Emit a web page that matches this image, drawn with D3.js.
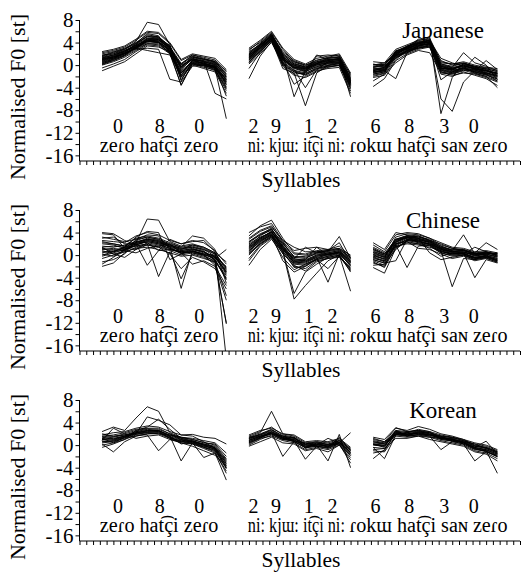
<!DOCTYPE html>
<html>
<head>
<meta charset="utf-8">
<script src="https://cdn.jsdelivr.net/npm/d3@7"></script>
<style>
  body { margin: 0; background: #fff; }
</style>
</head>
<body>
<div id="chart"></div>
<script>
// syllable positions of the three digit strings
var seg1X = [0, 1, 2, 3, 4, 5, 6, 7, 8, 9, 10, 11];
var seg2X = [13, 14, 15, 16, 17, 18, 19, 20, 21, 22];
var seg3X = [24, 25, 26, 27, 28, 29, 30, 31, 32, 33, 34, 35];

var languages = ["Japanese", "Chinese", "Korean"];
var yTicks = [8, 4, 0, -4, -8, -12, -16];

var digitLabels = ["0", "8", "0", "2", "9", "1", "2", "6", "8", "3", "0"];
var digitPos = [1.4, 5.1, 8.6, 13.4, 15.4, 18.3, 20.4, 24.2, 27.2, 30.3, 32.9];
var syllableLabels = ["zeɾo hat͡çi zeɾo", "ni: kjɯ: it͡çi ni:", "ɾokɯ hat͡çi saɴ zeɾo"];
var syllablePos = [-0.2, 12.9, 21.9];
var syllableEnd = [10.3, 21.5, 35.9];

// Japanese speakers
var japaneseSeg1 = [
  [1.2, 1.8, 2.6, 3.6, 4.8, 4.6, 3.0, -0.2, 1.2, 0.6, 0.2, -2.2],
  [0.5, 1.0, 1.8, 3.0, 4.2, 4.0, 2.4, -1.0, 0.6, 0.2, -0.3, -3.0],
  [2.0, 2.4, 3.0, 4.0, 5.4, 5.0, 3.3, 0.3, 1.6, 1.0, 0.5, -1.5],
  [-0.5, 0.2, 1.0, 2.4, 3.6, 3.4, 2.0, -3.5, 0.2, -0.4, -0.8, -4.0],
  [1.5, 2.0, 2.8, 4.2, 7.6, 7.2, 3.6, -2.8, 0.8, 0.4, -0.4, -5.5],
  [0.8, 1.4, 2.0, 3.2, 4.4, 4.2, 2.6, -0.6, 1.0, 0.8, -5.0, -6.0],
  [1.0, 1.6, 2.4, 3.4, 4.6, 4.4, 2.8, -1.2, 0.4, 0.0, -0.6, -9.5],
  [2.2, 2.6, 3.2, 4.4, 5.8, 5.6, 3.8, 0.8, 1.8, 1.4, 0.9, -1.2],
  [0.0, 0.6, 1.4, 2.6, 3.8, 3.8, 2.2, -1.8, 0.2, -0.2, -1.0, -4.5],
  [1.6, 2.2, 2.8, 3.8, 5.0, 4.8, 3.2, -0.3, 1.4, 0.8, 0.4, -2.0],
  [0.3, 0.8, 1.6, 2.8, 3.0, 2.8, -2.5, -3.0, -0.2, 0.0, -0.4, -3.5],
  [1.4, 1.8, 2.4, 3.6, 5.2, 5.0, 3.4, -0.8, 1.2, 0.6, 0.0, -2.8],
  [-1.0, -0.2, 0.6, 2.0, 3.4, 3.2, 2.4, 0.2, 1.8, 1.2, 0.6, -1.6],
  [1.0, 1.2, 2.0, 3.0, 4.0, 4.6, 3.0, 0.0, 1.0, 0.2, -0.2, -3.2],
  [0.6, 1.2, 2.2, 3.8, 5.6, 5.2, 2.2, -1.4, 0.6, 0.4, -0.2, -2.4],
  [1.8, 2.0, 2.6, 3.2, 4.2, 4.0, 2.8, -0.4, 1.4, 1.0, 0.6, -1.0],
  [0.2, 1.0, 1.8, 3.2, 4.4, 4.4, 3.2, -2.2, 0.0, -0.6, -1.2, -5.0],
  [1.2, 1.4, 2.2, 3.0, 2.6, 2.2, 1.8, -1.4, 0.8, 0.2, -0.4, -2.6],
  [0.9, 1.5, 2.3, 3.4, 4.6, 4.5, 2.9, -0.4, 1.1, 0.5, 0.1, -2.6],
  [1.3, 1.7, 2.5, 3.5, 4.4, 4.2, 2.6, -1.7, 0.9, 0.3, -0.1, -3.4],
  [0.4, 1.1, 2.0, 3.1, 4.3, 4.1, 2.5, -2.6, 0.5, 0.1, -0.5, -3.8],
  [1.7, 2.3, 2.9, 3.9, 5.1, 4.9, 3.1, 0.1, 1.5, 1.1, 0.7, -1.8],
  [0.7, 1.3, 2.1, 3.3, 4.7, 4.7, 3.5, -1.9, 0.9, 0.7, 0.3, -2.1],
  [1.1, 1.5, 2.1, 2.9, 3.8, 3.6, 2.3, -3.6, 0.3, -0.1, -0.6, -3.0],
  [2.4, 2.8, 3.4, 4.6, 6.0, 5.8, 4.0, 1.0, 2.0, 1.6, 1.2, -0.8],
  [0.1, 0.8, 1.7, 3.1, 4.2, 4.0, 2.0, -2.1, 0.3, 0.0, -0.8, -4.2]
];
var japaneseSeg2 = [
  [1.8, 3.6, 5.2, 1.6, 0.0, -0.6, 0.3, 0.8, 1.0, -2.6],
  [1.0, 2.8, 4.6, 0.8, -0.6, -1.2, -0.2, 0.2, 0.4, -3.6],
  [2.6, 4.2, 5.8, 2.8, 0.6, -0.2, 0.8, 1.4, 1.8, -1.8],
  [-2.4, 1.6, 4.2, 0.0, -1.2, -1.8, -0.6, -0.2, 0.0, -4.6],
  [2.0, 3.8, 5.6, 1.8, -5.6, -1.0, 1.8, 1.0, 1.2, -5.6],
  [0.6, 2.4, 4.4, -0.6, -1.4, -7.2, -1.4, 0.0, 0.4, -3.2],
  [1.4, 3.0, 5.0, 1.2, -0.2, -0.8, 0.2, 0.6, 0.8, -2.8],
  [2.2, 3.8, 5.4, 2.2, 0.4, -0.4, 0.6, 1.2, 1.4, -2.2],
  [0.2, 2.0, 4.0, 0.4, -1.0, -1.6, -0.4, 0.0, 0.2, -4.0],
  [1.6, 3.4, 5.0, 1.0, -0.4, -1.0, 0.0, 0.4, 0.6, -3.0],
  [3.0, 4.4, 6.0, 3.0, 1.0, 0.2, 1.2, 1.6, 2.0, -1.4],
  [1.2, 3.2, 4.8, 1.4, -0.8, -4.0, -0.8, 0.6, 0.8, -3.4],
  [0.8, 2.6, 4.6, 0.2, -1.6, -1.4, 1.6, 1.8, 1.6, -2.4],
  [2.4, 3.6, 5.2, 1.8, 0.2, -0.4, 0.4, 0.8, 1.2, -2.0],
  [-0.6, 2.2, 4.4, 0.6, -3.4, -2.0, -1.0, -0.6, -0.4, -5.0],
  [1.4, 3.2, 5.4, 2.4, 0.8, 0.0, 0.6, 1.0, 1.0, -2.8],
  [0.4, 2.6, 4.6, -0.2, -1.8, -2.2, -1.2, -0.4, 0.0, -3.8],
  [1.8, 3.0, 4.8, 1.2, -0.4, -0.6, 0.2, 1.2, 1.4, -3.2],
  [1.5, 3.4, 5.1, 1.4, -0.1, -0.7, 0.1, 0.5, 0.8, -3.0],
  [1.1, 3.0, 4.8, 0.9, -0.5, -1.1, -0.3, 0.3, 0.5, -3.4],
  [2.0, 3.6, 5.3, 1.9, 0.2, -0.3, 0.5, 0.9, 1.1, -2.4],
  [0.9, 2.8, 4.7, 0.6, -0.9, -1.4, -0.6, -0.1, 0.3, -4.2],
  [1.7, 3.5, 5.2, 1.5, 0.0, -0.5, 0.3, 0.7, 1.0, -2.7],
  [2.8, 4.0, 5.6, 2.0, 0.6, 0.0, 0.9, 1.3, 1.5, -1.6],
  [1.3, 3.1, 4.9, 1.1, -0.3, -0.9, 0.0, 0.4, 0.6, -3.1],
  [0.5, 2.4, 4.3, 0.3, -1.2, -1.7, -0.8, -0.3, -0.1, -3.6]
];
var japaneseSeg3 = [
  [-0.8, -0.4, 2.0, 3.0, 3.8, 4.2, -0.2, -0.6, 0.0, -0.6, -1.0, -1.4],
  [-1.6, -1.2, 1.4, 2.4, 3.2, 3.6, -0.8, -1.2, -0.6, -1.2, -1.6, -2.2],
  [0.6, 0.4, 2.8, 3.6, 4.4, 4.8, 0.6, 0.2, 0.6, 0.0, -0.4, -0.6],
  [-3.8, -2.4, 0.8, 2.0, 2.8, 3.2, -1.6, -2.0, -1.2, -1.8, -2.4, -3.6],
  [-0.4, 0.0, 2.4, 3.2, 4.6, 5.0, -8.6, -2.2, 0.4, -0.4, -1.0, -1.8],
  [-1.2, -1.0, -2.4, 2.2, 3.4, 4.2, -6.0, -8.2, -3.0, -1.0, -1.4, -2.0],
  [-0.2, 0.2, 2.2, 3.0, 3.6, 3.8, 0.0, -0.4, 2.2, 0.4, -0.2, -1.0],
  [-2.2, -1.8, 1.0, 2.6, 3.4, 3.8, -1.0, -1.4, -0.8, 1.4, 0.0, -2.6],
  [-1.0, -0.6, 2.0, 2.8, 3.8, 4.4, 1.2, 0.4, -0.2, -0.6, -1.2, -1.4],
  [0.2, -0.2, 1.6, 2.4, 3.0, 3.4, -0.4, -1.0, -0.4, -1.4, -2.0, -4.0],
  [-1.4, -1.0, 2.4, 3.4, 4.2, 4.4, -0.6, -0.8, 0.2, -0.4, -0.6, -1.2],
  [-2.8, -1.6, 0.4, 1.8, 2.6, 2.2, -1.4, -1.6, -1.0, -0.8, -1.6, -2.8],
  [-0.6, -0.8, 1.8, 3.2, 4.0, 4.0, -2.6, -1.2, -0.4, -1.0, 0.8, -0.8],
  [-1.8, -1.4, 2.6, 2.8, 3.6, 3.8, 0.4, 0.2, 0.4, -0.2, -0.8, -1.6],
  [-0.4, -0.2, 1.2, 2.6, 3.0, 3.6, -0.2, -0.8, -0.6, -1.2, -1.8, -2.4],
  [-1.2, -0.8, 2.2, 3.0, 4.4, 4.6, 0.2, -0.4, 0.0, -0.8, -1.0, -1.6],
  [0.0, 0.4, 1.8, 2.2, 3.2, 3.2, -1.2, -1.8, -1.4, -1.6, -2.2, -3.0],
  [-1.0, -0.4, 1.6, 3.4, 3.8, 4.0, -0.6, -0.6, -0.2, -0.6, -1.4, -1.8],
  [-0.9, -0.6, 2.0, 2.9, 3.7, 4.1, -0.3, -0.7, -0.1, -0.7, -1.0, -1.5],
  [-1.3, -1.0, 1.7, 2.6, 3.4, 3.8, -0.7, -1.1, -0.5, -1.1, -1.5, -2.0],
  [-0.3, -0.1, 2.3, 3.2, 4.0, 4.5, 0.2, -0.2, 0.3, -0.3, -0.7, -1.1],
  [-2.0, -1.5, 1.3, 2.2, 3.0, 3.4, -1.2, -1.5, -0.9, -1.5, -2.0, -2.8],
  [-0.7, -0.4, 2.1, 3.0, 3.9, 4.3, -0.5, -0.9, 0.1, -0.5, -0.9, -1.4],
  [-1.6, -1.2, 1.8, 2.7, 3.5, 3.7, -0.1, -0.5, -0.3, -0.9, -1.3, -1.9],
  [0.1, 0.1, 2.5, 3.3, 4.1, 4.3, 0.8, 0.0, 0.3, -0.2, -0.5, -0.9],
  [-1.1, -0.9, 1.5, 2.5, 3.3, 3.9, -0.9, -1.3, -0.7, -1.3, -1.7, -2.5]
];

// Chinese speakers
var chineseSeg1 = [
  [3.8, 3.6, 1.2, 2.6, 3.2, 2.8, 1.8, 1.2, 1.6, 1.0, -0.2, -3.0],
  [-2.0, -1.4, 0.4, 1.4, 1.8, 1.4, 0.8, 0.0, 0.4, -0.2, -1.0, -4.2],
  [1.2, 0.6, 1.4, 2.2, 6.4, 6.2, 2.4, 1.6, 2.0, 1.4, 0.4, -2.4],
  [0.4, 0.8, 1.0, 1.6, 2.0, -3.8, 0.6, -4.2, 0.2, -0.4, -1.4, -12.0],
  [2.4, 2.0, 1.6, 3.0, 3.4, 3.0, 2.2, 1.4, 3.4, 3.0, 1.0, -5.0],
  [-0.6, 0.0, 0.8, 1.8, 2.6, 2.2, 1.6, -5.9, 0.8, 0.0, -1.8, -8.0],
  [1.6, 1.4, 1.8, 2.4, 2.8, 2.4, 1.4, 0.8, 1.2, 0.6, -0.4, -2.0],
  [3.0, 3.2, 2.0, 2.0, -1.8, 0.8, 2.8, 2.0, 2.4, 2.6, 0.6, -18.5],
  [0.8, 0.2, 0.6, 1.2, 1.4, 1.0, 0.4, -0.2, 0.0, -0.6, -1.2, -3.6],
  [-1.2, -0.8, 0.2, 2.8, 3.6, 3.4, 1.0, 0.4, -1.6, -1.0, -2.0, -5.4],
  [2.0, 1.8, 1.2, 1.0, 2.2, 1.8, 1.2, 0.6, 0.8, 0.2, 0.0, -3.2],
  [0.0, 0.6, 1.4, 3.2, 4.2, 4.0, -0.8, 0.2, 1.0, 0.6, -0.8, -4.0],
  [4.0, 3.8, 2.6, 1.8, 2.4, 2.0, 1.6, 1.0, 1.4, 0.8, -1.0, -12.2],
  [1.0, 1.2, 0.8, 0.4, 1.2, 1.6, 2.0, 0.4, 0.6, 0.2, -0.6, 1.0],
  [-1.6, -0.4, 1.0, 2.0, 2.8, 2.6, 1.8, 1.0, 1.8, 1.2, 0.2, -2.6],
  [1.4, 0.2, -0.4, 1.0, 1.8, 1.4, 0.2, -2.4, -0.4, -1.2, -2.4, -6.0],
  [2.6, 2.4, 2.2, 3.4, 4.0, 3.6, 2.6, 2.0, 2.6, 2.2, 0.8, -1.6],
  [0.2, -0.2, 0.6, 2.4, 2.2, 0.8, 1.0, 0.6, 0.4, 0.0, -0.4, -3.0],
  [1.1, 1.0, 1.2, 2.0, 2.6, 2.2, 1.6, 0.8, 1.1, 0.6, -0.4, -3.4],
  [0.6, 0.6, 0.9, 1.8, 2.4, 2.0, 1.2, 0.4, 0.7, 0.2, -0.8, -4.4],
  [2.2, 2.0, 1.6, 2.2, 2.8, 2.4, 1.8, 1.2, 1.4, 1.0, 0.2, -2.2],
  [-0.2, 0.4, 1.0, 2.2, 3.0, 2.6, 1.4, 0.2, 0.6, 0.0, -1.2, -7.2],
  [1.4, 1.6, 1.4, 1.6, 2.0, 1.6, 1.0, 0.6, 1.0, 0.4, -0.2, -2.8],
  [3.2, 2.8, 2.4, 2.8, 3.2, 2.8, 2.0, 1.4, 1.8, 1.4, 0.4, -1.2]
];
var chineseSeg2 = [
  [1.6, 3.4, 4.6, 1.8, -0.8, -0.8, 0.0, 0.4, 0.8, -1.0],
  [-1.8, 1.0, 2.8, 0.4, -2.0, -2.4, -1.0, -0.6, -0.2, -2.4],
  [3.4, 5.2, 6.2, 3.0, 0.4, 0.2, 0.8, 1.0, 1.6, -0.2],
  [0.6, 2.4, 3.6, 0.6, -7.8, -5.4, -3.2, -1.0, 0.0, -6.4],
  [2.4, 3.6, 4.4, 2.2, -0.4, -0.6, 0.4, 0.6, 3.3, -0.6],
  [1.0, 2.8, 3.8, 1.2, -1.4, -1.2, -0.4, -4.8, 0.2, -1.8],
  [0.2, 2.2, 3.4, 0.2, -1.6, -1.8, -0.8, -0.2, 0.4, -2.0],
  [4.0, 5.0, 5.6, 2.6, 0.8, 1.2, 1.4, 1.0, 1.2, 0.0],
  [1.2, 3.0, 4.2, 1.6, -1.0, -1.2, -0.2, 0.2, 0.6, -1.2],
  [-0.6, 1.8, 3.2, 0.8, -6.8, -3.0, -1.6, -0.4, 0.0, -3.0],
  [2.0, 3.2, 4.0, 2.0, -0.2, -0.4, 0.2, 0.4, 0.8, -0.8],
  [0.8, 2.6, 3.6, -1.0, -3.0, -2.0, -0.6, 0.2, 0.4, -1.6],
  [2.8, 4.2, 5.0, 2.6, 1.4, 0.6, 0.6, 0.8, 1.0, -0.4],
  [1.4, 2.8, 4.0, 1.4, -1.2, -0.8, 1.4, 0.0, 0.6, -1.4],
  [-1.0, 1.6, 3.0, -0.4, -2.6, -1.6, -0.8, -2.4, -0.2, -2.8],
  [2.2, 3.6, 4.8, 1.0, -0.6, 1.4, 0.4, 0.8, 2.2, -1.2],
  [0.4, 2.0, 3.4, 1.2, -1.8, -2.8, -1.2, -0.6, -0.4, -2.2],
  [1.8, 3.0, 4.2, 1.6, -0.6, -1.0, 0.0, 0.2, 0.6, -1.0],
  [1.5, 3.0, 4.1, 1.4, -1.0, -1.0, -0.2, 0.1, 0.5, -1.3],
  [0.8, 2.4, 3.6, 1.0, -1.4, -1.6, -0.6, -0.2, 0.2, -1.8],
  [2.4, 3.8, 4.6, 2.2, -0.4, -0.2, 0.4, 0.6, 1.0, -0.6],
  [1.2, 2.6, 3.8, 0.8, -2.2, -2.0, -0.8, -0.4, 0.0, -2.6],
  [3.0, 4.4, 5.2, 2.4, 0.2, 0.0, 0.6, 0.8, 1.2, -0.4],
  [0.0, 2.0, 3.2, 0.6, -1.2, -1.4, -0.4, 0.0, 0.4, -1.6]
];
var chineseSeg3 = [
  [0.4, -0.4, 2.4, 3.2, 3.0, 2.4, 1.2, 0.6, 0.6, 0.0, 0.2, -0.2],
  [-2.2, -3.2, 1.2, 2.6, 2.2, 1.6, 0.4, 0.0, 0.0, -0.8, -0.4, -1.0],
  [1.8, 0.6, 3.6, 4.0, 3.8, 3.0, 2.2, 1.4, 1.2, 0.6, 0.8, 0.4],
  [-0.8, -1.4, -1.0, 2.8, 2.6, 2.0, 0.8, -5.6, -0.6, -0.8, 0.0, -1.2],
  [1.2, 0.2, 2.8, 3.4, 3.2, 2.8, 1.6, 0.8, 3.6, 0.2, 0.4, 0.0],
  [-1.4, -2.0, 1.8, -2.2, 1.6, 1.8, 0.6, 0.2, 0.4, -4.0, -0.8, -1.4],
  [0.0, -0.8, 2.0, 3.0, 2.8, 2.2, 1.0, 0.4, 0.2, -0.4, 0.0, -0.6],
  [2.2, 1.0, 4.0, 3.6, 3.4, 2.6, 2.0, 1.2, 0.8, 0.4, 2.2, 1.0],
  [-0.4, -1.2, 1.6, 2.8, 2.4, 2.0, 1.2, 0.6, 0.6, -0.2, 0.2, -0.4],
  [0.8, -0.2, 2.6, 3.4, 3.0, 0.4, -0.8, -0.4, 0.0, -0.6, -0.2, -0.8],
  [-1.0, -1.8, 2.2, 3.2, 2.6, 2.4, 1.4, 1.0, 1.0, 0.2, 0.6, 0.2],
  [0.6, 0.0, 2.0, 2.4, 1.2, 1.0, 0.2, -0.6, -0.2, -1.0, -0.6, -1.2],
  [-0.2, -0.6, 3.2, 3.8, 3.6, 3.0, 1.8, 1.2, 1.0, 0.4, 0.6, 0.0],
  [1.4, 0.4, 1.4, 2.2, 2.0, 1.2, -0.2, 0.4, 0.4, 0.2, 0.2, 0.4],
  [-1.8, -1.6, 1.0, 2.6, 2.8, 2.2, 1.0, 0.2, 0.4, -0.4, -0.2, -0.8],
  [0.2, -0.4, 2.8, 3.0, 3.4, 2.6, 1.4, 0.8, 0.2, 1.4, 0.6, -0.2],
  [-0.6, -1.0, 1.6, 2.0, 1.8, 1.4, 0.8, 0.0, 0.2, -0.6, -0.4, -1.0],
  [1.0, 0.0, 2.4, 3.2, 2.2, 2.0, 1.0, 0.6, 0.8, 0.0, 0.4, 0.0],
  [0.1, -0.7, 2.3, 3.1, 2.9, 2.3, 1.1, 0.5, 0.5, -0.1, 0.1, -0.3],
  [-0.8, -1.4, 1.8, 2.8, 2.5, 1.9, 0.8, 0.2, 0.3, -0.5, -0.3, -0.9],
  [1.0, 0.2, 2.8, 3.5, 3.2, 2.6, 1.6, 0.9, 0.8, 0.3, 0.5, 0.2],
  [-1.2, -2.2, 1.4, 2.4, 2.0, 1.7, 0.4, -0.2, 0.0, -0.8, -0.5, -1.3],
  [0.5, -0.3, 2.6, 3.3, 3.0, 2.5, 1.3, 0.7, 0.9, 0.1, 0.3, 0.3],
  [-0.3, -1.0, 2.0, 2.6, 2.4, 1.8, 0.6, 0.3, 0.2, -0.4, -0.1, -0.6]
];

// Korean speakers
var koreanSeg1 = [
  [1.2, 1.4, 1.8, 2.4, 2.8, 2.6, 1.8, 1.2, 0.8, 0.2, -0.4, -3.0],
  [0.2, -1.2, 0.6, 1.6, 2.0, 2.0, 1.2, 0.4, 0.2, -0.4, -1.0, -4.2],
  [2.4, 3.2, 2.6, 4.8, 6.8, 6.0, 2.2, 1.4, 1.0, 0.4, 0.2, -2.0],
  [0.6, 0.8, 1.4, 2.0, 5.0, 4.4, 3.6, 1.8, 1.6, 0.6, -0.6, -4.0],
  [1.6, 1.8, 2.2, 2.8, 3.0, 3.0, 2.0, 1.0, 0.4, -2.2, -1.4, -6.2],
  [-0.4, 0.2, 1.0, 1.8, 1.8, -1.0, 1.0, 0.6, 0.8, 0.0, -0.8, -3.6],
  [1.0, 1.2, 1.6, 2.2, 2.6, 2.6, 1.6, -2.8, 0.4, -0.2, -0.6, -3.2],
  [1.8, 2.2, 2.4, 3.0, 3.4, 3.2, 2.4, 1.8, 1.9, 1.4, 1.2, 0.2],
  [0.4, 0.6, 1.2, 1.6, 2.0, 2.2, 1.4, 0.6, 0.2, -0.6, -1.4, -4.6],
  [1.4, 1.0, 1.6, 2.4, 2.6, 2.4, 1.2, 0.8, 0.6, 0.0, -0.4, -2.8],
  [0.8, 3.0, 2.0, 1.2, 1.6, 1.8, 1.0, 0.4, -0.2, -1.0, -1.8, -3.8],
  [1.2, 0.4, 1.0, 2.6, 3.2, 4.6, 2.8, 1.2, 0.6, 0.2, -0.2, -2.6],
  [2.0, 1.6, 1.8, 2.0, 2.2, 2.0, 1.8, 1.4, 1.2, 0.8, 0.4, -1.4],
  [0.0, 0.4, 1.4, 2.2, 2.4, 2.6, 1.6, 0.2, 0.6, -0.4, -1.2, -5.0],
  [1.0, 1.1, 1.6, 2.2, 2.5, 2.5, 1.7, 1.0, 0.7, 0.1, -0.5, -3.3],
  [0.6, 0.7, 1.3, 1.9, 2.2, 2.2, 1.3, 0.7, 0.3, -0.3, -0.9, -4.0],
  [1.5, 1.5, 2.0, 2.6, 2.9, 2.8, 2.0, 1.3, 1.0, 0.5, 0.0, -2.4],
  [0.9, 0.9, 1.5, 2.1, 2.3, 2.4, 1.5, 0.9, 0.5, -0.1, -0.7, -3.6]
];
var koreanSeg2 = [
  [1.0, 1.8, 2.6, 1.4, 1.2, 0.0, 0.2, 0.0, 0.6, -1.0],
  [0.2, 1.2, 1.6, 0.8, 0.4, -0.8, -0.4, -0.8, 0.0, -2.2],
  [1.4, 2.2, 6.0, 2.0, 1.6, 0.4, 0.6, 0.4, 1.0, -0.6],
  [0.6, 1.4, 2.2, -2.0, 0.6, -0.4, 0.0, -2.8, 1.9, -4.0],
  [1.6, 2.4, 3.2, 1.8, 1.4, 0.2, 0.4, 0.2, 0.8, -0.8],
  [0.0, 1.0, 1.8, 1.0, 0.8, -2.5, -0.2, -0.4, 0.4, -1.6],
  [1.2, 1.6, 2.0, 1.6, 1.2, 0.2, 0.6, 0.0, 0.4, 2.2],
  [0.4, 1.2, 2.4, 1.2, 0.6, -0.4, -0.2, -0.6, 0.2, -1.8],
  [1.8, 2.6, 3.0, 2.0, 1.8, 0.6, 0.8, 0.6, 1.2, -0.4],
  [-0.2, 0.6, 1.4, 0.4, 0.2, -1.0, -0.6, -1.2, 0.0, -2.6],
  [0.8, 1.6, 2.2, 1.2, 1.0, -0.2, 0.2, -0.2, 0.8, -1.4],
  [1.2, 2.0, 2.8, 1.6, 0.8, 0.0, 0.0, 1.2, 0.4, -1.2],
  [0.6, 1.4, 2.0, 1.0, 1.4, -0.6, 0.4, -0.4, 1.4, -1.0],
  [1.4, 1.8, 2.4, 1.4, 0.6, 0.4, -0.2, 0.0, 0.2, -3.2],
  [0.8, 1.6, 2.3, 1.3, 1.0, -0.2, 0.1, -0.2, 0.5, -1.3],
  [0.4, 1.3, 2.0, 1.0, 0.7, -0.5, -0.2, -0.5, 0.3, -1.9],
  [1.2, 1.9, 2.7, 1.6, 1.3, 0.1, 0.4, 0.1, 0.8, -0.8],
  [0.9, 1.5, 2.1, 1.2, 0.9, -0.3, 0.0, -0.3, 0.5, -1.6]
];
var koreanSeg3 = [
  [0.2, 0.0, 2.4, 2.0, 2.4, 2.0, 1.4, 1.2, 0.6, -0.2, -0.6, -1.4],
  [-1.0, -1.2, 1.6, 1.4, 1.6, 1.4, 0.8, 0.4, 0.0, -1.0, -1.4, -2.4],
  [1.2, 0.6, 3.0, 2.6, 3.3, 2.8, 2.0, 1.6, 1.0, 0.4, 0.0, -0.8],
  [-2.4, -0.8, 2.0, 1.8, 2.0, 1.6, -0.8, 0.6, 0.2, -2.8, -1.2, -2.0],
  [0.8, 0.4, 2.6, 2.4, 2.6, 2.2, 1.6, 1.4, 1.0, 0.0, -0.4, -1.2],
  [-0.4, -2.4, 1.8, 1.6, 1.8, 1.8, 1.2, 0.8, 0.4, -0.6, -1.0, -5.0],
  [0.4, 0.2, 2.2, 2.0, 2.2, 1.8, 1.2, 1.0, 0.6, -0.4, 0.7, -1.6],
  [1.4, 1.0, 3.1, 2.4, 2.6, 2.4, 1.8, 1.4, 0.8, 0.2, -0.2, -1.0],
  [-0.8, -0.6, 1.2, 1.2, 1.6, 1.0, 0.6, 0.2, -0.2, -1.2, -1.6, -2.8],
  [0.0, -0.2, 2.2, 1.9, 2.2, 2.2, 1.4, 1.0, 0.4, -0.4, -0.8, -1.6],
  [0.6, 0.2, 2.0, 2.2, 2.8, 2.4, 1.0, 0.8, 0.6, 0.2, -0.6, -1.4],
  [-1.4, -1.0, 2.4, 1.6, 1.8, 1.4, 1.2, 1.2, 0.2, -0.8, -1.0, -2.0],
  [1.0, 0.6, 1.8, 2.2, 2.0, 1.8, 1.6, 0.6, 0.8, -0.2, -0.4, -1.2],
  [0.2, -0.4, 2.6, 1.6, 2.4, 2.0, 1.4, 1.0, 0.4, -0.6, -1.2, -1.8],
  [0.1, -0.2, 2.2, 1.9, 2.2, 1.9, 1.3, 1.0, 0.5, -0.4, -0.8, -1.6],
  [-0.4, -0.6, 1.9, 1.6, 1.9, 1.6, 1.0, 0.7, 0.2, -0.7, -1.1, -2.1],
  [0.6, 0.3, 2.5, 2.2, 2.5, 2.2, 1.6, 1.3, 0.8, -0.1, -0.5, -1.2],
  [0.2, -0.1, 2.0, 1.8, 2.1, 1.8, 1.2, 0.9, 0.4, -0.5, -0.9, -1.8]
];

var panelData = [
  [japaneseSeg1, japaneseSeg2, japaneseSeg3],
  [chineseSeg1, chineseSeg2, chineseSeg3],
  [koreanSeg1, koreanSeg2, koreanSeg3]
];
var segX = [seg1X, seg2X, seg3X];

var w = 523, h = 572;
var panelTop = [0, 190, 380];
var plotLeft = 79.5, plotRight = 520;
var plotTop = 20, plotBottom = 161;
var serif = "Liberation Serif";

var svg = d3.select("#chart").append("svg")
  .attr("width", w)
  .attr("height", h)
  .attr("font-family", serif);

var xScale = d3.scaleLinear().domain([-2, 37]).range([plotLeft, plotRight]);
var yScale = d3.scaleLinear().domain([-17, 8]).range([plotBottom, plotTop]);

var line = d3.line()
  .x(function(d) { return xScale(d[0]); })
  .y(function(d) { return yScale(d[1]); });

panelData.forEach(function(segs, p) {
  var g = svg.append("g").attr("transform", "translate(0," + panelTop[p] + ")");

  // clip lines to the plot box
  g.append("clipPath").attr("id", "clip" + p)
    .append("rect")
    .attr("x", plotLeft).attr("y", plotTop - 5)
    .attr("width", plotRight - plotLeft).attr("height", plotBottom - plotTop + 5);

  // language name sits under the contours
  g.append("text")
    .attr("x", 443).attr("y", 38)
    .attr("text-anchor", "middle")
    .attr("font-family", serif)
    .attr("font-size", "23px")
    .text(languages[p]);

  // digit labels and syllables
  g.selectAll(".digit").data(digitLabels).enter()
    .append("text")
    .attr("x", function(d, i) { return xScale(digitPos[i]); })
    .attr("y", 133)
    .attr("text-anchor", "middle")
    .attr("font-family", serif)
    .attr("font-size", "20px")
    .text(function(d) { return d; });

  g.selectAll(".syl").data(syllableLabels).enter()
    .append("text")
    .attr("x", function(d, i) { return xScale(syllablePos[i]); })
    .attr("y", 152)
    .attr("font-family", serif)
    .attr("font-size", "20px")
    .attr("textLength", function(d, i) { return xScale(syllableEnd[i]) - xScale(syllablePos[i]); })
    .attr("lengthAdjust", "spacingAndGlyphs")
    .text(function(d) { return d; });

  var lg = g.append("g").attr("clip-path", "url(#clip" + p + ")");
  segs.forEach(function(seg, s) {
    lg.selectAll(null).data(seg).enter()
      .append("path")
      .attr("d", function(vals) {
        return line(vals.map(function(v, i) { return [segX[s][i], v]; }));
      })
      .attr("fill", "none")
      .attr("stroke", "#000")
      .attr("stroke-width", 0.9);
  });

  // y axis: minor ticks every 2, labels every 4
  var yAxis = g.append("g")
    .attr("transform", "translate(" + plotLeft + ",0)")
    .call(d3.axisLeft(yScale).tickValues(d3.range(-16, 9, 2)).tickSize(4).tickFormat(""));
  g.append("g")
    .attr("transform", "translate(" + plotLeft + ",0)")
    .call(d3.axisLeft(yScale).tickValues(yTicks).tickSize(0).tickPadding(6)
      .tickFormat(function(d) { return d; }))
    .attr("font-family", serif)
    .attr("font-size", "21px")
    .call(function(a) { a.select(".domain").remove(); });
  yAxis.select(".domain").attr("d", "M0," + plotTop + "V" + plotBottom);

  // x axis with minor ticks only
  var xAxis = g.append("g")
    .attr("transform", "translate(0," + plotBottom + ")")
    .call(d3.axisBottom(xScale).tickValues(d3.range(-2, 37.01, 0.6)).tickSize(4).tickFormat(""));
  xAxis.select(".domain").attr("d", "M" + plotLeft + ",0H" + plotRight);

  g.selectAll(".domain, .tick line").attr("stroke", "#000");

  g.append("text")
    .attr("x", 301).attr("y", 187)
    .attr("text-anchor", "middle")
    .attr("font-family", serif)
    .attr("font-size", "21.5px")
    .text("Syllables");

  g.append("text")
    .attr("transform", "translate(25,97) rotate(-90)")
    .attr("text-anchor", "middle")
    .attr("font-family", serif)
    .attr("font-size", "22px")
    .text("Normalised F0 [st]");
});
</script>
</body>
</html>
